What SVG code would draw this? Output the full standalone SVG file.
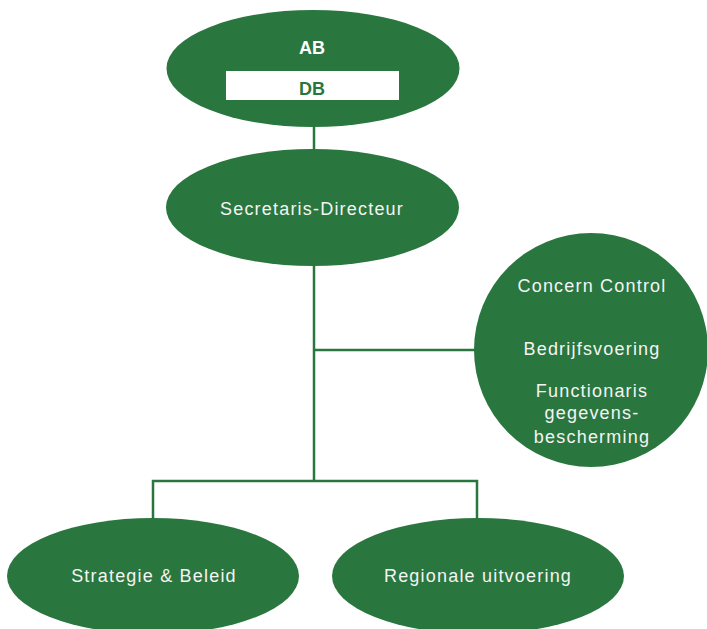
<svg xmlns="http://www.w3.org/2000/svg" width="707" height="629" viewBox="0 0 707 629">
<style>
.n{fill:#29763e}
.t{font-family:"Liberation Sans",Arial,sans-serif;font-size:18px;fill:#f4f4f4;text-anchor:middle;letter-spacing:1.2px}
.b{font-family:"Liberation Sans",Arial,sans-serif;font-size:18px;font-weight:bold;text-anchor:middle}
.c{fill:none;stroke:#29763e;stroke-width:2.5}
</style>
<rect width="707" height="629" fill="#fff"/>
<g id="connectors" class="c">
<line x1="314" y1="125" x2="314" y2="151"/>
<line x1="314" y1="264" x2="314" y2="481"/>
<line x1="314" y1="350" x2="476" y2="350"/>
<polyline points="153,520 153,481 477,481 477,520"/>
</g>
<g id="ab">
<ellipse class="n" cx="313" cy="68.5" rx="146.5" ry="58.5"/>
<text class="b" x="312" y="54" fill="#fff">AB</text>
<rect x="226" y="71" width="173" height="29" fill="#fff"/>
<text class="b" x="312" y="95" fill="#29763e">DB</text>
</g>
<g id="sd">
<ellipse class="n" cx="312.5" cy="207.5" rx="146.5" ry="58.5"/>
<text class="t" x="312" y="215">Secretaris-Directeur</text>
</g>
<g id="staf">
<circle class="n" cx="591" cy="350" r="117"/>
<text class="t" x="592" y="292">Concern Control</text>
<text class="t" x="592" y="355">Bedrijfsvoering</text>
<text class="t" x="592" y="397">Functionaris</text>
<text class="t" x="592" y="419">gegevens-</text>
<text class="t" x="592" y="443">bescherming</text>
</g>
<g id="strategie">
<ellipse class="n" cx="153" cy="576" rx="146" ry="58"/>
<text class="t" x="154" y="582">Strategie &amp; Beleid</text>
</g>
<g id="regionaal">
<ellipse class="n" cx="478" cy="576" rx="146" ry="58"/>
<text class="t" x="478" y="582">Regionale uitvoering</text>
</g>
</svg>
